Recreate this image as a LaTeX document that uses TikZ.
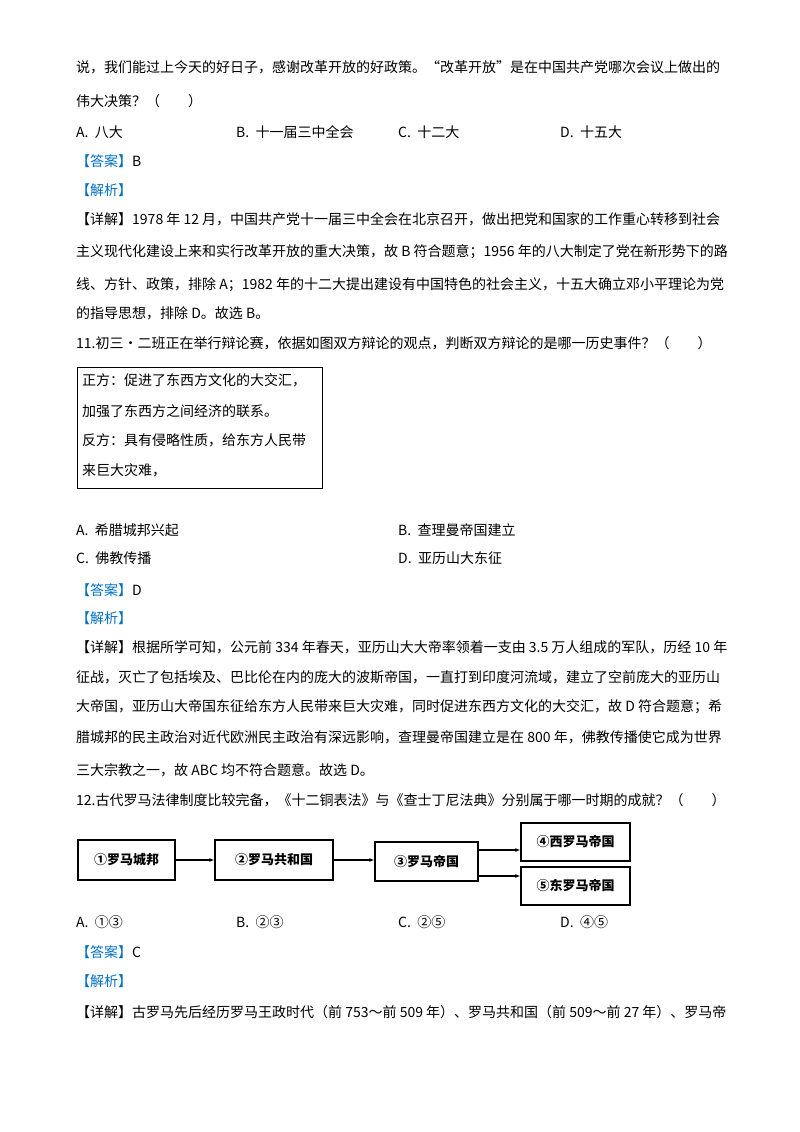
\documentclass[tikz,border=0pt]{standalone}
\usepackage{fontspec}
\setmainfont{Liberation Serif}
\newfontfamily\cjk{Noto Sans CJK SC}
\usetikzlibrary{arrows.meta}
\definecolor{ansblue}{RGB}{0,112,192}
\tikzset{
  ln/.style={anchor=base west,inner sep=0pt,font=\cjk\fontsize{14}{14}\selectfont},
  fbox/.style={draw,line width=1.3pt,inner sep=0pt,font=\cjk\bfseries\fontsize{13}{13}\selectfont},
  arr/.style={-{Latex[length=5pt,width=4pt]},line width=1.1pt}
}
\newcommand{\ans}[1]{\textcolor{ansblue}{#1}}
\begin{document}
\begin{tikzpicture}[x=1pt,y=-1pt]
\useasboundingbox (0,0) rectangle (800,1132);
\node[ln] (l1) at (76,73) {说，我们能过上今天的好日子，感谢改革开放的好政策。“改革开放”是在中国共产党哪次会议上做出的};
\node[ln] (l2) at (76,106) {伟大决策？（\quad\quad）};
\node[ln] (o1) at (76,137) {A.\ \ 八大};
\node[ln] (o2) at (236,137) {B.\ \ 十一届三中全会};
\node[ln] (o3) at (398,137) {C.\ \ 十二大};
\node[ln] (o4) at (560,137) {D.\ \ 十五大};
\node[ln] (a1) at (76,166) {\ans{【答案】}B};
\node[ln] (j1) at (76,195) {\ans{【解析】}};
\node[ln] (d1) at (76,224) {【详解】1978 年 12 月，中国共产党十一届三中全会在北京召开，做出把党和国家的工作重心转移到社会};
\node[ln] (d2) at (76,256) {主义现代化建设上来和实行改革开放的重大决策，故 B 符合题意；1956 年的八大制定了党在新形势下的路};
\node[ln] (d3) at (76,289) {线、方针、政策，排除 A；1982 年的十二大提出建设有中国特色的社会主义，十五大确立邓小平理论为党};
\node[ln] (d4) at (76,318) {的指导思想，排除 D。故选 B。};
\node[ln] (q11) at (76,348) {11.初三•二班正在举行辩论赛，依据如图双方辩论的观点，判断双方辩论的是哪一历史事件？（\quad\quad）};
\node[draw,line width=0.8pt,minimum width=245pt,minimum height=121pt,inner sep=0pt] (box) at (199.5,427.5) {};
\node[ln] (b1) at (82,385) {正方：促进了东西方文化的大交汇，};
\node[ln] (b2) at (82,416) {加强了东西方之间经济的联系。};
\node[ln] (b3) at (82,445) {反方：具有侵略性质，给东方人民带};
\node[ln] (b4) at (82,475) {来巨大灾难，};
\node[ln] (p1) at (76,535) {A.\ \ 希腊城邦兴起};
\node[ln] (p2) at (398,535) {B.\ \ 查理曼帝国建立};
\node[ln] (p3) at (76,563) {C.\ \ 佛教传播};
\node[ln] (p4) at (398,563) {D.\ \ 亚历山大东征};
\node[ln] (a2) at (76,595) {\ans{【答案】}D};
\node[ln] (j2) at (76,623) {\ans{【解析】}};
\node[ln] (e1) at (76,652) {【详解】根据所学可知，公元前 334 年春天，亚历山大大帝率领着一支由 3.5 万人组成的军队，历经 10 年};
\node[ln] (e2) at (76,682) {征战，灭亡了包括埃及、巴比伦在内的庞大的波斯帝国，一直打到印度河流域，建立了空前庞大的亚历山};
\node[ln] (e3) at (76,711) {大帝国，亚历山大帝国东征给东方人民带来巨大灾难，同时促进东西方文化的大交汇，故 D 符合题意；希};
\node[ln] (e4) at (76,742) {腊城邦的民主政治对近代欧洲民主政治有深远影响，查理曼帝国建立是在 800 年，佛教传播使它成为世界};
\node[ln] (e5) at (76,775) {三大宗教之一，故 ABC 均不符合题意。故选 D。};
\node[ln] (q12) at (76,805) {12.古代罗马法律制度比较完备，《十二铜表法》与《查士丁尼法典》分别属于哪一时期的成就？（\quad\quad）};
\node[fbox,minimum width=97pt,minimum height=40pt] (f1) at (126.5,860) {①罗马城邦};
\node[fbox,minimum width=118pt,minimum height=40pt] (f2) at (274,860) {②罗马共和国};
\node[fbox,minimum width=103pt,minimum height=39pt] (f3) at (426.5,861.5) {③罗马帝国};
\node[fbox,minimum width=109pt,minimum height=38pt] (f4) at (575.5,842) {④西罗马帝国};
\node[fbox,minimum width=109pt,minimum height=38pt] (f5) at (575.5,886) {⑤东罗马帝国};
\draw[arr] (f1) -- (f2);
\draw[arr] (f2.east) -- (f2.east -| f3.west);
\draw[arr] ([yshift=11.5pt]f3.east) -- ([yshift=11.5pt]f3.east -| f4.west);
\draw[arr] ([yshift=-14.5pt]f3.east) -- ([yshift=-14.5pt]f3.east -| f5.west);
\node[ln] (r1) at (76,927) {A.\ \ ①③};
\node[ln] (r2) at (236,927) {B.\ \ ②③};
\node[ln] (r3) at (398,927) {C.\ \ ②⑤};
\node[ln] (r4) at (560,927) {D.\ \ ④⑤};
\node[ln] (a3) at (76,957) {\ans{【答案】}C};
\node[ln] (j3) at (76,986) {\ans{【解析】}};
\node[ln] (g1) at (76,1017) {【详解】古罗马先后经历罗马王政时代（前 753～前 509 年）、罗马共和国（前 509～前 27 年）、罗马帝};
\end{tikzpicture}
\end{document}
